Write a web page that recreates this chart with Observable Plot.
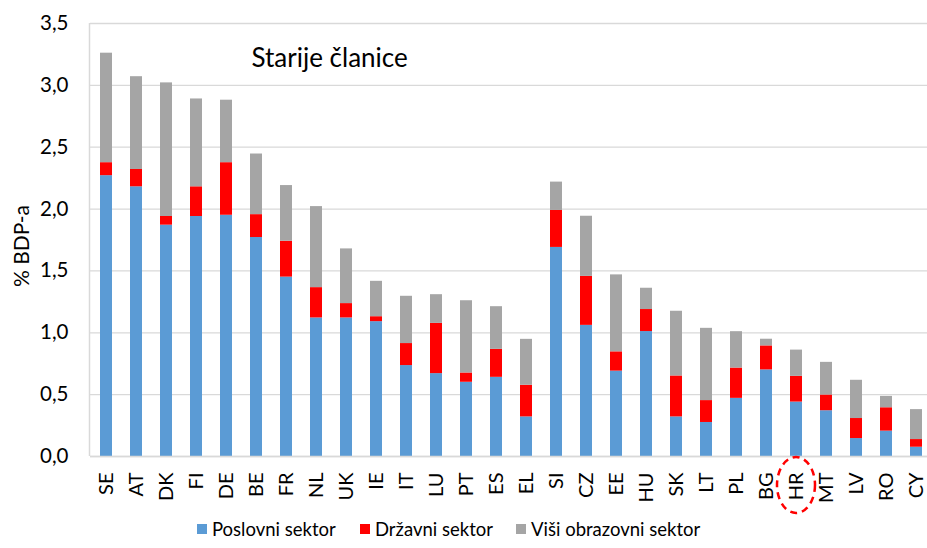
<!DOCTYPE html>
<html>
<head>
<meta charset="utf-8">
<script src="https://cdn.jsdelivr.net/npm/d3@7"></script>
<script src="https://cdn.jsdelivr.net/npm/@observablehq/plot@0.6"></script>
<style>
  html, body { margin: 0; padding: 0; background: #fff; }
  #wrap { position: relative; width: 927px; height: 548px; font-family: Lato, "Open Sans", sans-serif; }
  #legend { position: absolute; left: 0; top: 520px; width: 927px; height: 28px; }
  .item { position: absolute; top: -2px; display: flex; align-items: center; font-size: 18.5px; color: #000; white-space: nowrap; }
  .sw { width: 10px; height: 10px; margin-right: 5px; }
</style>
</head>
<body>
<div id="wrap"><div id="chart"></div><div id="legend"></div></div>
<script>
const countries = ["SE","AT","DK","FI","DE","BE","FR","NL","UK","IE","IT","LU","PT","ES","EL","SI","CZ","EE","HU","SK","LT","PL","BG","HR","MT","LV","RO","CY"];
const sectors = ["Poslovni sektor", "Državni sektor", "Viši obrazovni sektor"];
const colors = ["#5b9bd5", "#ff0000", "#a5a5a5"];
const business = [2.27,2.18,1.87,1.94,1.95,1.77,1.45,1.12,1.12,1.09,0.735,0.67,0.60,0.64,0.32,1.69,1.06,0.69,1.01,0.32,0.275,0.47,0.70,0.44,0.37,0.145,0.205,0.075];
const government = [0.105,0.14,0.07,0.24,0.425,0.185,0.29,0.245,0.116,0.04,0.178,0.406,0.075,0.226,0.256,0.299,0.396,0.156,0.178,0.331,0.177,0.245,0.194,0.208,0.127,0.162,0.189,0.062];
const higherEd = [0.885,0.75,1.08,0.71,0.505,0.49,0.45,0.655,0.442,0.286,0.382,0.232,0.584,0.345,0.371,0.229,0.486,0.622,0.172,0.523,0.584,0.294,0.054,0.212,0.264,0.309,0.092,0.242];
const yTicks = [0, 0.5, 1, 1.5, 2, 2.5, 3, 3.5];
const threshold = 1.117;
const thresholdFrom = "SI";
const highlight = "HR";
const title = "Starije članice";
const yLabel = "% BDP-a";

const series = [business, government, higherEd];
const data = [];
countries.forEach((c, i) => series.forEach((s, k) => data.push({country: c, sector: sectors[k], value: s[i]})));

const fmt = v => d3.format(".1f")(v).replace(".", ",");

const W = 927, H = 520, mL = 90, mT = 23, mB = 64;
const plot = Plot.plot({
  width: W, height: H,
  marginLeft: mL, marginRight: 0, marginTop: mT, marginBottom: mB,
  style: {fontFamily: "Lato, 'Open Sans', sans-serif", fontSize: "18px", color: "#000", background: "#fff"},
  x: {domain: countries, range: [mL, 931.5], paddingInner: 0.6, paddingOuter: 0.3, label: null},
  y: {domain: [0, 3.5], label: null},
  color: {domain: sectors, range: colors},
  marks: [
    Plot.gridY(yTicks, {stroke: "#d9d9d9", strokeOpacity: 1, strokeWidth: 1.3}),
    Plot.barY(data, {x: "country", y: "value", fill: "sector", order: sectors}),
    Plot.ruleY([0], {stroke: "#d9d9d9", strokeWidth: 1.5}),
    Plot.ruleY([threshold], {x1: thresholdFrom, x2: countries[countries.length - 1], insetRight: -3, stroke: "#404040", strokeWidth: 1.3, strokeDasharray: "4,3"}),
    Plot.axisY(yTicks, {tickSize: 0, tickPadding: 22, tickFormat: fmt, fontSize: 20.5, label: null}),
    Plot.axisX({tickSize: 0, tickPadding: 16, tickRotate: -90, fontSize: 20, label: null}),
    Plot.text([title], {frameAnchor: "top-left", dx: 161, dy: 35, textAnchor: "start", lineAnchor: "middle", fontSize: 26}),
    Plot.text([yLabel], {frameAnchor: "left", dx: -68, dy: 6, rotate: -90, textAnchor: "middle", lineAnchor: "middle", fontSize: 21})
  ]
});
document.getElementById("chart").appendChild(plot);

// left axis line and highlight ellipse, positioned through the plot's scales
const sx = plot.scale("x"), sy = plot.scale("y");
const svg = d3.select(plot);
svg.append("line")
  .attr("x1", mL - 0.5).attr("x2", mL - 0.5)
  .attr("y1", sy.apply(3.5)).attr("y2", sy.apply(0))
  .attr("stroke", "#d9d9d9").attr("stroke-width", 1.5);
const cx = sx.apply(highlight) + sx.bandwidth / 2;
svg.append("ellipse")
  .attr("cx", cx).attr("cy", sy.apply(0) + 29)
  .attr("rx", 19).attr("ry", 28)
  .attr("fill", "none").attr("stroke", "#ff0000").attr("stroke-width", 2.5).attr("stroke-dasharray", "7,5");

// legend
const legendPos = [197, 360, 516];
const lg = document.getElementById("legend");
sectors.forEach((s, k) => {
  const it = document.createElement("div");
  it.className = "item";
  it.style.left = legendPos[k] + "px";
  it.innerHTML = `<span class="sw" style="background:${colors[k]}"></span><span>${s}</span>`;
  lg.appendChild(it);
});
</script>
</body>
</html>
